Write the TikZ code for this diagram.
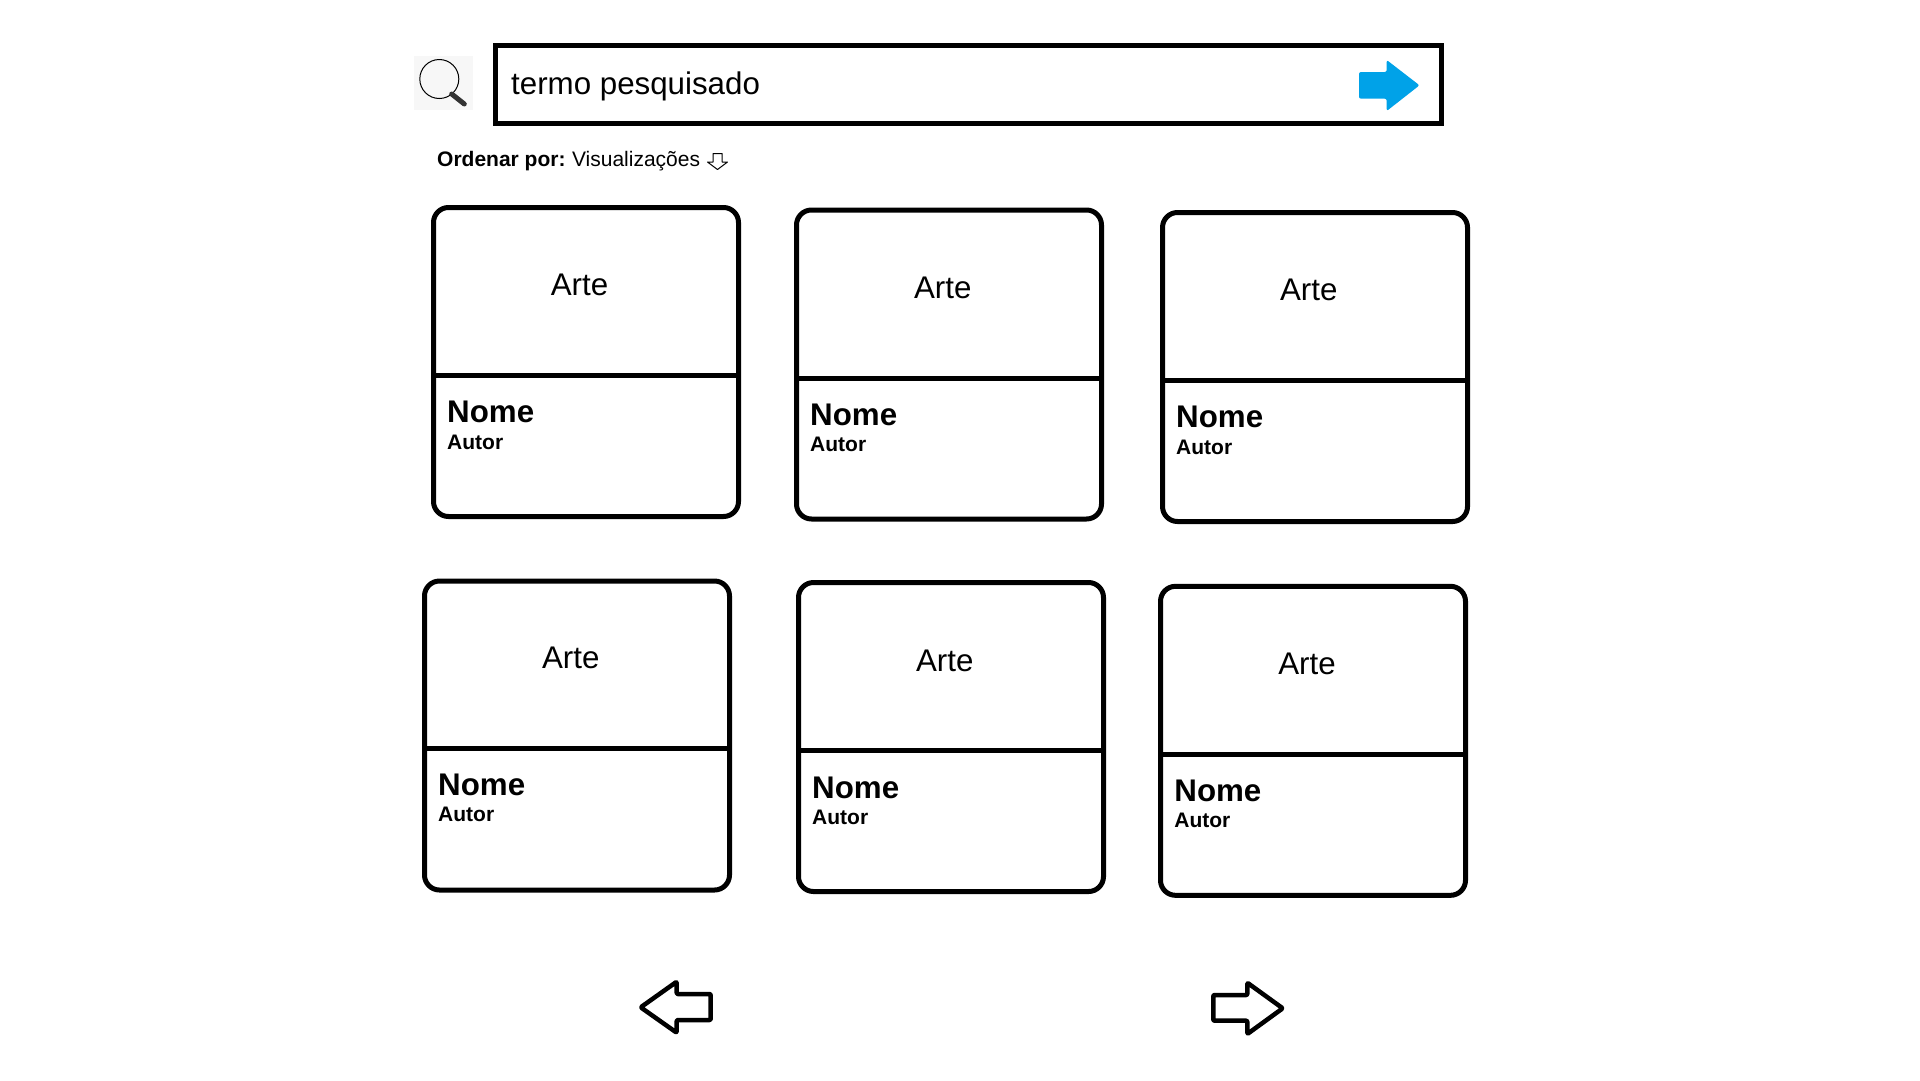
\documentclass[tikz,border=0pt]{standalone}
\usepackage{fontspec}
\setmainfont{Liberation Sans}
\usepackage{tikz}
\tikzset{
 card/.style={draw, line width=5pt, rounded corners=15pt, minimum width=305pt, minimum height=309pt, inner sep=0pt, outer sep=0pt},
 divider/.style={draw, line width=5pt},
 searchbox/.style={draw, line width=5pt, minimum width=946pt, minimum height=78pt, inner sep=0pt, outer sep=0pt},
 big/.style={anchor=base west, inner sep=0pt, font=\fontsize{31.3}{31.3}\selectfont},
 arte/.style={anchor=base, inner sep=0pt, font=\fontsize{31.3}{31.3}\selectfont},
 nome/.style={anchor=base west, inner sep=0pt, font=\fontsize{31.3}{31.3}\selectfont\bfseries},
 autor/.style={anchor=base west, inner sep=0pt, font=\fontsize{21}{21}\selectfont\bfseries},
 navarrow/.style={draw, line width=4.5pt, line join=round, rounded corners=1pt}
}
\definecolor{arrowblue}{RGB}{0,162,232}
\begin{document}
\begin{tikzpicture}[x=1pt,y=-1pt]
 \useasboundingbox[fill=white] (0,0) rectangle (1920,1080);

 %search
 \node[fill=black!3, minimum width=59pt, minimum height=54pt, inner sep=0pt] (iconbg) at (443.5,83) {};
 \node[draw, circle, line width=1pt, minimum size=39pt, inner sep=0pt, outer sep=0pt] (lens) at (439.3,79) {};
 \draw[line width=1pt] (lens.-45) -- (451.7,94);
 \draw[line width=5pt, line cap=round, black!80] (451.7,94) -- (464.3,104);
 \node[searchbox] (box) at (968.5,84.5) {};
 \node[big] (term) at (511,94) {termo pesquisado};
 \draw[fill=arrowblue, draw=none, rounded corners=2pt]
   (1359,72) -- (1386.7,72) -- (1386.7,60) -- (1419.5,85.3) -- (1386.7,111) -- (1386.7,98.7) -- (1359,98.7) -- cycle;

 %order
 \node[anchor=base west, inner sep=0pt, font=\fontsize{21}{21}\selectfont] (order) at (437,166.5) {\textbf{Ordenar por:}\hspace{6.5pt}Visualizações};
 \draw[line width=1pt, line join=round] (713,153.5) -- (722,153.5) -- (722,162) -- (727.5,162) -- (717.5,169.5) -- (707.5,162) -- (713,162) -- cycle;

 %row 1
 \node[card] (c1) at (586,362) {};
 \draw[divider] (c1.west |- 0,375.3) -- (c1.east |- 0,375.3);
 \node[arte] (a1) at (579.5,295.7) {Arte};
 \node[nome] (n1) at (447,422) {Nome};
 \node[autor] (t1) at (447,449) {Autor};

 \node[card] (c2) at (949,364.5) {};
 \draw[divider] (c2.west |- 0,378.3) -- (c2.east |- 0,378.3);
 \node[arte] (a2) at (942.7,298.5) {Arte};
 \node[nome] (n2) at (810,425.5) {Nome};
 \node[autor] (t2) at (810,451.5) {Autor};

 \node[card] (c3) at (1315,367) {};
 \draw[divider] (c3.west |- 0,380.3) -- (c3.east |- 0,380.3);
 \node[arte] (a3) at (1308.7,300.7) {Arte};
 \node[nome] (n3) at (1176,427) {Nome};
 \node[autor] (t3) at (1176,454) {Autor};

 %row 2
 \node[card] (c4) at (577,735.5) {};
 \draw[divider] (c4.west |- 0,748.8) -- (c4.east |- 0,748.8);
 \node[arte] (a4) at (570.7,668.5) {Arte};
 \node[nome] (n4) at (438,795.5) {Nome};
 \node[autor] (t4) at (438,821.5) {Autor};

 \node[card] (c5) at (951,737) {};
 \draw[divider] (c5.west |- 0,750.3) -- (c5.east |- 0,750.3);
 \node[arte] (a5) at (944.7,671) {Arte};
 \node[nome] (n5) at (812,798) {Nome};
 \node[autor] (t5) at (812,824) {Autor};

 \node[card] (c6) at (1313,740.8) {};
 \draw[divider] (c6.west |- 0,754.3) -- (c6.east |- 0,754.3);
 \node[arte] (a6) at (1307,674.5) {Arte};
 \node[nome] (n6) at (1174.2,801.5) {Nome};
 \node[autor] (t6) at (1174.2,827.5) {Autor};

 %nav
 \draw[navarrow] (640.7,1007.3) -- (676.7,981.7) -- (676.7,994) -- (710.7,994) -- (710.7,1020) -- (676.7,1020) -- (676.7,1032.7) -- cycle;
 \draw[navarrow] (1282.7,1008.3) -- (1247.3,982.7) -- (1247.3,995) -- (1213.3,995) -- (1213.3,1020.7) -- (1247.3,1020.7) -- (1247.3,1034) -- cycle;
\end{tikzpicture}
\end{document}
